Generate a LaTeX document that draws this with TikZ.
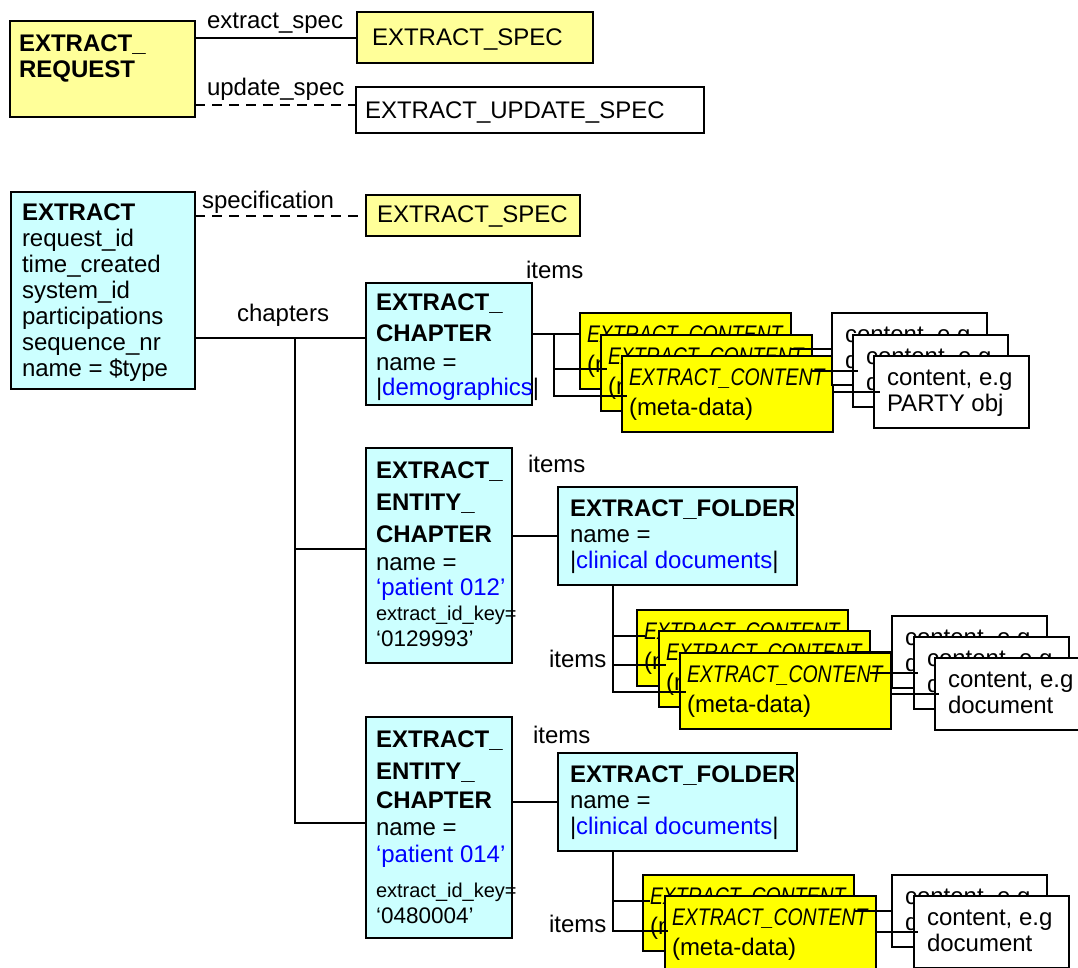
\documentclass[tikz,border=0pt]{standalone}
\usepackage{fontspec}
\setmainfont{Liberation Sans}
\usepackage{graphicx}
\usetikzlibrary{calc}
\definecolor{ly}{HTML}{FFFF99}
\definecolor{cy}{HTML}{CCFFFF}
\definecolor{yl}{HTML}{FFFF00}
\definecolor{bl}{HTML}{0000FF}
\newcommand\mylines[1]{\begin{tabular}[t]{@{}l@{}}#1\end{tabular}}
\newcommand\ecname{\scalebox{0.81}[1]{\itshape EXTRACT\_CONTENT}}
\newcommand\smf{\fontsize{20}{22}\selectfont}
\newcommand\nmf{\fontsize{22.5}{24}\selectfont}
\begin{document}
\begin{tikzpicture}[x=1pt,y=-1pt,
  bx/.style={draw, line width=2pt, inner sep=0pt, outer sep=0pt, anchor=north west},
  txt/.style={anchor=base west, inner sep=0pt, outer sep=0pt, font=\fontsize{24}{26}\selectfont},
  ln/.style={line width=2pt},
  dsh/.style={line width=2pt, dash pattern=on 10pt off 7pt},
  ycont/.style={bx, fill=yl, minimum width=211pt, minimum height=76pt},
  wcont/.style={bx, fill=white, minimum width=155pt, minimum height=72pt}
]
\clip (0,0) rectangle (1078,967);
\newcommand\ybox[3]{%
  \node[ycont] (#1) at (#2,#3) {};
  \node[txt] (#1-t) at (#2+7,#3+29) {\mylines{\ecname\\[4pt](meta-data)}};}
\newcommand\wbox[4]{%
  \node[wcont] (#1) at (#2,#3) {};
  \node[txt] (#1-t) at (#2+13,#3+29) {\mylines{content, e.g\\#4}};}

% ---------- request ----------
\node[bx, fill=ly, minimum width=185pt, minimum height=96pt] (req) at (10,21) {};
\node[txt] (req-t) at (19,51) {\mylines{\textbf{EXTRACT\_}\\\textbf{REQUEST}}};
\node[bx, fill=ly, minimum width=236pt, minimum height=51pt] (spec1) at (357,12) {};
\node[txt] (spec1-t) at (372,45) {EXTRACT\_SPEC};
\node[bx, fill=white, minimum width=348pt, minimum height=46pt] (upd) at (356,87) {};
\node[txt] (upd-t) at (365,118) {EXTRACT\_UPDATE\_SPEC};
\node[txt] (l-es) at (207,28) {extract\_spec};
\node[txt] (l-us) at (207,95) {update\_spec};

% ---------- extract ----------
\node[bx, fill=cy, minimum width=184pt, minimum height=197pt] (ext) at (11,192) {};
\node[txt] (ext-t) at (22,220) {\mylines{\textbf{EXTRACT}\\request\_id\\time\_created\\system\_id\\participations\\sequence\_nr\\name = \$type}};
\node[bx, fill=ly, minimum width=214pt, minimum height=41pt] (spec2) at (366,195) {};
\node[txt] (spec2-t) at (377,222) {EXTRACT\_SPEC};
\node[txt] (l-sp) at (202,208) {specification};
\node[txt] (l-ch) at (237,321) {chapters};

% ---------- chapter 1 ----------
\node[bx, fill=cy, minimum width=166pt, minimum height=122pt] (ch1) at (366,283) {};
\node[txt] (ch1-t) at (376,310) {\mylines{\textbf{EXTRACT\_}\\[5pt]\textbf{CHAPTER}\\[3pt]name =\\[-1pt]|\textcolor{bl}{demographics}|}};
\node[txt] (l-i1) at (526,278) {items};
\ybox{y1}{580}{313}
\ybox{y2}{601}{335}
\ybox{y3}{622}{356}
\wbox{w1}{832}{313}{document}
\wbox{w2}{853}{335}{document}
\wbox{w3}{874}{356}{PARTY obj}

% ---------- chapter 2 ----------
\node[bx, fill=cy, minimum width=146pt, minimum height=215pt] (ch2) at (366,448) {};
\node[txt] (ch2-t) at (376,478) {\mylines{\textbf{EXTRACT\_}\\[6pt]\textbf{ENTITY\_}\\[6pt]\textbf{CHAPTER}\\[2pt]name =\\[-1pt]\textcolor{bl}{`patient 012'}\\[-1pt]{\smf extract\_id\_key=}\\{\nmf `0129993'}}};
\node[txt] (l-i2) at (528,472) {items};
\node[bx, fill=cy, minimum width=239pt, minimum height=98pt] (f1) at (558,487) {};
\node[txt] (f1-t) at (570,516) {\mylines{\textbf{EXTRACT\_FOLDER}\\name =\\|\textcolor{bl}{clinical documents}|}};
\node[txt] (l-i3) at (549,667) {items};
\ybox{a1}{637}{610}
\ybox{a2}{659}{631}
\ybox{a3}{680}{653}
\wbox{b1}{892}{616}{document}
\wbox{b2}{914}{637}{document}
\wbox{b3}{935}{658}{document}

% ---------- chapter 3 ----------
\node[bx, fill=cy, minimum width=146pt, minimum height=221pt] (ch3) at (366,717) {};
\node[txt] (ch3-t) at (376,747) {\mylines{\textbf{EXTRACT\_}\\[6pt]\textbf{ENTITY\_}\\[3pt]\textbf{CHAPTER}\\[1pt]name =\\[1pt]\textcolor{bl}{`patient 014'}\\[9pt]{\smf extract\_id\_key=}\\{\nmf `0480004'}}};
\node[txt] (l-i4) at (533,743) {items};
\node[bx, fill=cy, minimum width=239pt, minimum height=98pt] (f2) at (558,753) {};
\node[txt] (f2-t) at (570,782) {\mylines{\textbf{EXTRACT\_FOLDER}\\name =\\|\textcolor{bl}{clinical documents}|}};
\node[txt] (l-i5) at (549,932) {items};
\ybox{c1}{643}{875}
\ybox{c2}{665}{896}
\wbox{d1}{892}{875}{document}
\wbox{d2}{914}{896}{document}

% ---------- connectors ----------
\draw[ln] (spec1.west -| req.east) -- (spec1.west);
\coordinate (uq) at (356,105);
\draw[dsh] (uq -| req.east) -- (uq);
\draw[dsh] (spec2.west -| ext.east) -- (spec2.west);

\coordinate (tr1) at (295,338);
\coordinate (tr2) at (295,549);
\coordinate (tr3) at (295,823);
\draw[ln] (tr1 -| ext.east) -- (tr1 -| ch1.west);
\draw[ln] (tr1) -- (tr3) -- (tr3 -| ch3.west);
\draw[ln] (tr2) -- (tr2 -| ch2.west);

% stack 1
\coordinate (s1a) at (554,334);
\coordinate (s1b) at (554,369);
\coordinate (s1c) at (554,396);
\draw[ln] (s1a -| ch1.east) -- (s1a -| y1.west);
\draw[ln] (s1a) -- (s1c) -- ($(s1c -| y3.west)+(5,0)$);
\draw[ln] (s1b) -- ($(s1b -| y2.west)+(6,0)$);
\draw[ln] (w1.west -| y1.east) -- (w1.west);
\draw[ln] (w2.west -| y2.east) -- ($(w2.west)+(5,0)$);
\draw[ln] (w3.west -| y3.east) -- ($(w3.west)+(6,0)$);

% chapter 2 / folder 1
\draw[ln] (f1.west -| ch2.east) -- (f1.west);
\coordinate (s2t) at (613,585);
\coordinate (s2a) at (613,636);
\coordinate (s2b) at (613,665);
\coordinate (s2c) at (613,692);
\draw[ln] (s2t) -- (s2c) -- ($(s2c -| a3.west)+(6,0)$);
\draw[ln] (s2a) -- ($(s2a -| a1.west)+(8,0)$);
\draw[ln] (s2b) -- ($(s2b -| a2.west)+(7,0)$);
\draw[ln] (b1.west -| a1.east) -- (b1.west);
\draw[ln] (b2.west -| a2.east) -- ($(b2.west)+(4,0)$);
\draw[ln] (b3.west -| a3.east) -- ($(b3.west)+(4,0)$);

% chapter 3 / folder 2
\draw[ln] (f2.west -| ch3.east) -- (f2.west);
\coordinate (s3t) at (613,851);
\coordinate (s3a) at (613,901);
\coordinate (s3b) at (613,931);
\draw[ln] (s3t) -- (s3b) -- ($(s3b -| c2.west)+(3,0)$);
\draw[ln] (s3a) -- ($(s3a -| c1.west)+(7,0)$);
\draw[ln] (d1.west -| c1.east) -- (d1.west);
\draw[ln] (d2.west -| c2.east) -- ($(d2.west)+(4,0)$);
\end{tikzpicture}
\end{document}
